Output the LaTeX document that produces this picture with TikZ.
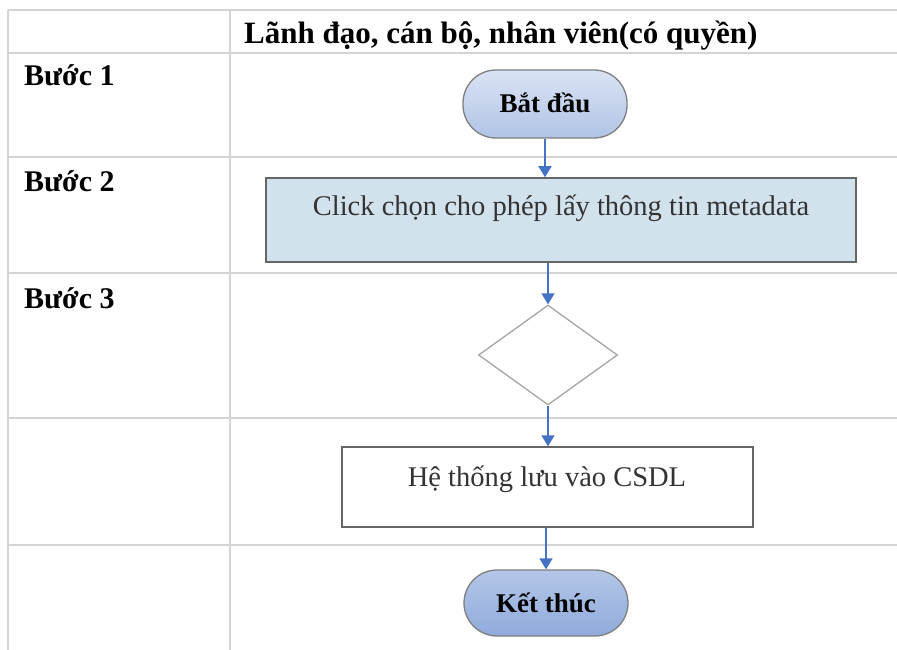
\documentclass[tikz,border=0pt]{standalone}
\usepackage{fontspec}
\setmainfont{Liberation Serif}
\usetikzlibrary{shapes.geometric,arrows.meta}
\definecolor{gridc}{HTML}{D4D4D4}
\definecolor{flowc}{HTML}{4472C4}
\definecolor{edgec}{HTML}{7F7F7F}
\definecolor{clickc}{HTML}{D2E2EC}
\begin{document}
\begin{tikzpicture}[x=1pt,y=-1pt,
  gridline/.style={draw=gridc,line width=1.8pt},
  steplabel/.style={anchor=base west,inner sep=0pt,font=\fontsize{30}{33}\selectfont\bfseries},
  headlabel/.style={anchor=base west,inner sep=0pt,font=\fontsize{31}{34}\selectfont\bfseries},
  pillA/.style={draw=edgec,line width=1.3pt,rounded corners=33pt,minimum width=164pt,minimum height=68pt,top color=flowc!20!white,bottom color=flowc!42!white,inner sep=0pt},
  pillB/.style={draw=edgec,line width=1.3pt,rounded corners=33pt,minimum width=164pt,minimum height=66pt,top color=flowc!40!white,bottom color=flowc!60!white,inner sep=0pt},
  boxshape/.style={draw=edgec!80!black,line width=1.5pt,inner sep=0pt},
  bodytext/.style={anchor=base,inner sep=0pt,font=\fontsize{28.5}{31}\selectfont,text=black!80},
  boldtext/.style={anchor=base,inner sep=0pt,font=\fontsize{27}{30}\selectfont\bfseries},
  flow/.style={draw=flowc,line width=1.5pt,-{Triangle[length=11pt,width=13pt]}}
]
\useasboundingbox (0,0) rectangle (897,650);
% table grid
\foreach \yy in {10,53,157,273,418,545} \draw[gridline] (8,\yy) -- (897,\yy);
\draw[gridline] (8,10) -- (8,650);
\draw[gridline] (230,10) -- (230,650);
% header and step labels
\node[headlabel] (hdr) at (244,44) {Lãnh đạo, cán bộ, nhân viên(có quyền)};
\node[steplabel] (s1) at (24,86) {Bước 1};
\node[steplabel] (s2) at (24,191) {Bước 2};
\node[steplabel] (s3) at (24,308) {Bước 3};
% flow shapes
\node[pillA] (start) at (545,104) {};
\node[boldtext] (starttxt) at (545,113) {Bắt đầu};
\node[boxshape,fill=clickc,minimum width=590pt,minimum height=84pt] (click) at (561,220) {};
\node[bodytext] (clicktxt) at (561,215) {Click chọn cho phép lấy thông tin metadata};
\node[diamond,draw=edgec!70,line width=1.3pt,aspect=1.39,minimum width=139pt,minimum height=100pt,inner sep=0pt] (dia) at (548,355) {};
\node[boxshape,fill=white,minimum width=411pt,minimum height=80pt] (save) at (547.5,487) {};
\node[bodytext] (savetxt) at (547,486) {Hệ thống lưu vào CSDL};
\node[pillB] (end) at (546,603) {};
\node[boldtext] (endtxt) at (546,612) {Kết thúc};
% connectors
\draw[flow] (start.south) -- (start.south |- click.north);
\draw[flow] (dia.north |- click.south) -- (dia.north);
\draw[flow] (dia.south) -- (dia.south |- save.north);
\draw[flow] (end.north |- save.south) -- (end.north);
\end{tikzpicture}
\end{document}
